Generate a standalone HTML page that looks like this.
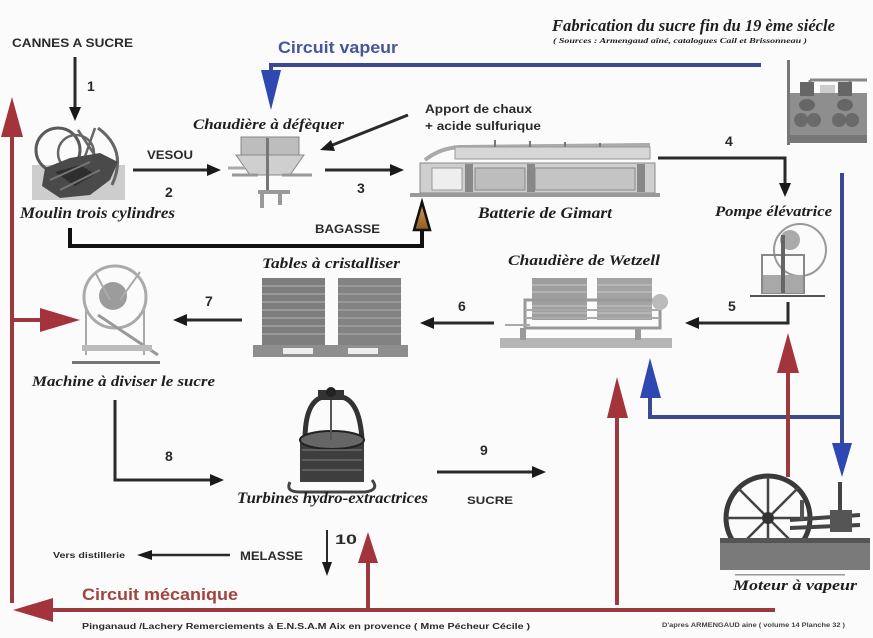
<!DOCTYPE html>
<html><head><meta charset="utf-8"><style>
html,body{margin:0;padding:0;background:#fbfbfb;}
svg{display:block;}
.s{font-family:"Liberation Sans",sans-serif;font-weight:bold;fill:#2a2a2a;}
.sc{font-family:"Liberation Serif","DejaVu Serif",serif;font-weight:bold;font-style:italic;fill:#1e1e1e;}
</style></head><body>
<svg width="873" height="638" viewBox="0 0 873 638" xmlns="http://www.w3.org/2000/svg">
<defs>
<linearGradient id="org" x1="0" y1="0" x2="0" y2="1"><stop offset="0" stop-color="#e0a050"/><stop offset="1" stop-color="#8a5a20"/></linearGradient>
</defs>
<rect width="873" height="638" fill="#fbfbfb"/>

<!-- Moulin trois cylindres -->
<g>
<rect x="32" y="165" width="93" height="35" fill="#cdcdcd"/>
<circle cx="58" cy="150" r="22" fill="none" stroke="#5a5a5a" stroke-width="3"/>
<circle cx="76" cy="153" r="18" fill="none" stroke="#666" stroke-width="2.5"/>
<path d="M98 128 Q128 150 112 185" fill="none" stroke="#666" stroke-width="3"/>
<path d="M78 130 L98 160 M95 128 L82 165" stroke="#666" stroke-width="2.5"/>
<polygon points="45,168 70,158 100,153 118,162 110,180 90,195 60,198 42,186" fill="#4a4a4a"/>
<polygon points="55,172 80,165 95,174 75,186" fill="#2e2e2e"/>
<path d="M60 190 L100 170 M50 180 L90 162" stroke="#777" stroke-width="2"/>
</g>

<!-- Chaudière à défèquer -->
<g>
<rect x="241" y="137" width="58" height="18" fill="#bdbdbd" stroke="#888"/>
<polygon points="236,155 304,155 290,175 250,175" fill="#cfcfcf" stroke="#888"/>
<rect x="266" y="138" width="3" height="55" fill="#777"/>
<path d="M232 175 L258 175 M282 175 L312 175" stroke="#999" stroke-width="3"/>
<path d="M258 192 L290 192 M262 192 L262 208 M280 192 L280 205" stroke="#999" stroke-width="4"/>
<path d="M228 168 L245 168" stroke="#aaa" stroke-width="3"/>
</g>

<!-- Batterie de Gimart -->
<g>
<path d="M425 160 Q440 148 460 147 L650 145" fill="none" stroke="#aaa" stroke-width="4"/>
<rect x="455" y="147" width="195" height="12" fill="#d6d6d6" stroke="#999"/>
<rect x="420" y="163" width="235" height="30" fill="#cfcfcf" stroke="#888"/>
<rect x="432" y="168" width="30" height="22" fill="#eee" stroke="#999"/>
<rect x="475" y="168" width="50" height="22" fill="#bdbdbd" stroke="#888"/>
<rect x="535" y="168" width="100" height="22" fill="#c4c4c4" stroke="#888"/>
<rect x="465" y="164" width="8" height="28" fill="#888"/>
<rect x="527" y="164" width="8" height="28" fill="#888"/>
<rect x="637" y="164" width="8" height="28" fill="#888"/>
<rect x="410" y="193" width="250" height="4" fill="#999"/>
<path d="M495 147 V140 M530 147 V141 M565 147 V142 M600 147 V143" stroke="#777" stroke-width="2"/>
</g>

<!-- Top-right steam machine -->
<g>
<rect x="787" y="60" width="3" height="85" fill="#777"/>
<rect x="790" y="93" width="77" height="50" fill="#8e8e8e"/>
<rect x="790" y="135" width="77" height="8" fill="#777"/>
<path d="M810 80 L867 80 M810 80 V90 M850 80 V90" stroke="#888" stroke-width="3"/>
<rect x="800" y="82" width="14" height="14" fill="#666"/>
<rect x="838" y="82" width="14" height="14" fill="#666"/>
<ellipse cx="807" cy="105" rx="8" ry="6" fill="#666"/>
<ellipse cx="845" cy="105" rx="8" ry="6" fill="#666"/>
<ellipse cx="801" cy="120" rx="7" ry="7" fill="#6a6a6a"/>
<ellipse cx="814" cy="120" rx="7" ry="7" fill="#6a6a6a"/>
<ellipse cx="839" cy="120" rx="7" ry="7" fill="#6a6a6a"/>
<ellipse cx="852" cy="120" rx="7" ry="7" fill="#6a6a6a"/>
<rect x="820" y="85" width="15" height="8" fill="#ccc"/>
</g>

<!-- Pompe élévatrice -->
<g>
<circle cx="800" cy="250" r="26" fill="none" stroke="#999" stroke-width="2"/>
<circle cx="790" cy="240" r="10" fill="#aaa"/>
<rect x="762" y="255" width="42" height="38" fill="none" stroke="#888" stroke-width="2"/>
<rect x="763" y="275" width="40" height="18" fill="#a8a8a8"/>
<rect x="781" y="235" width="4" height="58" fill="#666"/>
<rect x="750" y="295" width="75" height="2" fill="#555"/>
</g>

<!-- Chaudière de Wetzell -->
<g>
<rect x="532" y="278" width="55" height="42" fill="#9e9e9e"/>
<rect x="597" y="278" width="55" height="42" fill="#a4a4a4"/>
<path d="M532 285 H587 M532 292 H587 M532 299 H587 M532 306 H587 M532 313 H587 M597 285 H652 M597 292 H652 M597 299 H652 M597 306 H652 M597 313 H652" stroke="#c8c8c8" stroke-width="1"/>
<rect x="525" y="300" width="135" height="28" fill="none" stroke="#999" stroke-width="3"/>
<path d="M505 325 H530 M525 310 H660 M525 318 H660" stroke="#aaa" stroke-width="2"/>
<circle cx="660" cy="302" r="8" fill="#bbb"/>
<rect x="500" y="338" width="172" height="10" fill="#b5b5b5"/>
<rect x="520" y="328" width="6" height="12" fill="#999"/>
<rect x="635" y="328" width="6" height="12" fill="#999"/>
</g>

<!-- Tables à cristalliser -->
<g>
<rect x="262" y="278" width="63" height="68" fill="#7e7e7e"/>
<rect x="338" y="278" width="63" height="68" fill="#828282"/>
<path d="M262 286 H325 M262 294 H325 M262 302 H325 M262 310 H325 M262 318 H325 M262 326 H325 M262 334 H325 M338 286 H401 M338 294 H401 M338 302 H401 M338 310 H401 M338 318 H401 M338 326 H401 M338 334 H401" stroke="#a0a0a0" stroke-width="1.5"/>
<rect x="253" y="345" width="155" height="12" fill="#8e8e8e"/>
<rect x="283" y="348" width="30" height="6" fill="#eee"/>
<rect x="348" y="348" width="30" height="6" fill="#eee"/>
</g>

<!-- Machine à diviser le sucre -->
<g>
<circle cx="115" cy="297" r="31" fill="none" stroke="#aaa" stroke-width="3"/>
<circle cx="113" cy="296" r="14" fill="#9c9c9c"/>
<path d="M95 272 L110 300 M140 272 L120 300" stroke="#aaa" stroke-width="2"/>
<path d="M98 315 L158 355" stroke="#999" stroke-width="3"/>
<path d="M86 310 L86 355 M144 310 L144 355 M92 350 H150" stroke="#aaa" stroke-width="2"/>
<rect x="82" y="345" width="70" height="6" fill="#bbb"/>
<rect x="72" y="361" width="88" height="3" fill="#777"/>
</g>

<!-- Turbines hydro-extractrices -->
<g>
<path d="M305 440 Q305 405 320 398 Q332 393 345 398 Q360 405 362 440" fill="none" stroke="#333" stroke-width="5"/>
<rect x="318" y="390" width="26" height="10" fill="#333"/>
<circle cx="331" cy="392" r="5" fill="#222"/>
<rect x="300" y="440" width="64" height="42" fill="#3e3e3e"/>
<ellipse cx="332" cy="440" rx="32" ry="9" fill="#666" stroke="#222" stroke-width="2"/>
<path d="M302 450 H362 M302 460 H362 M302 470 H362" stroke="#6a6a6a" stroke-width="1.5"/>
<path d="M290 482 Q285 492 300 492 H365 Q380 490 372 480" fill="none" stroke="#444" stroke-width="3"/>
<rect x="330" y="400" width="2" height="40" fill="#555"/>
</g>

<!-- Moteur à vapeur -->
<g>
<circle cx="768" cy="518" r="42" fill="none" stroke="#3a3a3a" stroke-width="5"/>
<path d="M768 476 V560 M726 518 H810 M738 488 L798 548 M798 488 L738 548" stroke="#444" stroke-width="2.5"/>
<circle cx="768" cy="518" r="6" fill="#333"/>
<rect x="720" y="538" width="150" height="32" fill="#7a7a7a"/>
<rect x="720" y="538" width="150" height="5" fill="#555"/>
<path d="M790 520 L860 515 M790 528 L860 525" stroke="#444" stroke-width="4"/>
<rect x="838" y="482" width="4" height="40" fill="#444"/>
<rect x="830" y="510" width="22" height="22" fill="#555"/>
<rect x="800" y="500" width="4" height="20" fill="#555"/>
<rect x="735" y="574" width="110" height="1.5" fill="#999"/>
</g>

<!-- Blue steam circuit -->
<g stroke="#3b4a8e" stroke-width="4" fill="none">
<path d="M270 65 H761"/>
<path d="M271 63 V75"/>
<path d="M842 173 V445"/>
<path d="M842 417 H650 V395"/>
</g>
<polygon points="261,70 281,70 271,110" fill="#2f47b0"/>
<polygon points="832,443 852,443 842,477" fill="#2f47b0"/>
<polygon points="650,358 640,398 661,398" fill="#2f47b0"/>

<!-- Red mechanical circuit -->
<g stroke="#9a3a3e" stroke-width="4" fill="none">
<path d="M12 603 V130"/>
<path d="M12 320 H45"/>
<path d="M48 610 H775"/>
<path d="M368 610 V560"/>
<path d="M617 605 V415"/>
<path d="M788 477 V370"/>
</g>
<polygon points="12,97 1,137 23,137" fill="#a3343c"/>
<polygon points="80,320 40,308 40,332" fill="#a3343c"/>
<polygon points="13,610 53,598 53,622" fill="#a3343c"/>
<polygon points="368,532 358,563 378,563" fill="#a3343c"/>
<polygon points="617,377 607,418 628,418" fill="#a3343c"/>
<polygon points="788,333 777,373 799,373" fill="#a3343c"/>

<!-- Black process arrows -->
<g stroke="#2a2a2a" stroke-width="3" fill="none">
<path d="M75 57 V110"/>
<path d="M133 170 H208"/>
<path d="M325 170 H391"/>
<path d="M408 115 L330 146"/>
<path d="M70 228 V246 H422 V228" stroke="#111" stroke-width="4"/>
<path d="M658 158 H785 V186"/>
<path d="M242 320 H185"/>
<path d="M494 323 H432"/>
<path d="M788 302 V323 H697"/>
<path d="M115 400 V480 H211"/>
<path d="M437 472 H533"/>
<path d="M327 530 V565" stroke-width="2"/>
<path d="M230 555 H150" stroke-width="2.5"/>
</g>
<g fill="#1a1a1a">
<polygon points="75,121 69,107 81,107"/>
<polygon points="221,170 207,164 207,176"/>
<polygon points="404,170 390,164 390,176"/>
<polygon points="320,150 331,140 335,151"/>
<polygon points="785,197 779,183 791,183"/>
<polygon points="173,320 187,314 187,326"/>
<polygon points="420,323 434,317 434,329"/>
<polygon points="685,323 699,317 699,329"/>
<polygon points="224,480 210,474 210,486"/>
<polygon points="546,472 532,466 532,478"/>
<polygon points="327,576 322,562 332,562"/>
<polygon points="137,555 152,550 152,560"/>
</g>
<polygon points="422,202 414,230 430,230" fill="url(#org)" stroke="#111" stroke-width="2.5"/>

<!-- Text -->
<text class="s" x="12" y="47" font-size="12" textLength="121" lengthAdjust="spacingAndGlyphs">CANNES A SUCRE</text>
<text class="s" x="87" y="91" font-size="14">1</text>
<text class="s" x="278" y="53" font-size="17" style="fill:#45569a" textLength="120" lengthAdjust="spacingAndGlyphs">Circuit vapeur</text>
<text class="sc" x="552" y="31" font-size="17" textLength="283" lengthAdjust="spacingAndGlyphs">Fabrication du sucre fin du 19 ème siécle</text>
<text class="sc" x="553" y="43" font-size="7.5" textLength="254" lengthAdjust="spacingAndGlyphs">( Sources : Armengaud aîné, catalogues Cail et Brissonneau )</text>
<text class="sc" x="193" y="129" font-size="15" textLength="151" lengthAdjust="spacingAndGlyphs">Chaudière à défèquer</text>
<text class="s" x="425" y="113" font-size="12" textLength="107" lengthAdjust="spacingAndGlyphs">Apport de chaux</text>
<text class="s" x="425" y="130" font-size="12" textLength="116" lengthAdjust="spacingAndGlyphs">+ acide sulfurique</text>
<text class="s" x="147" y="159" font-size="12" textLength="46" lengthAdjust="spacingAndGlyphs">VESOU</text>
<text class="s" x="165" y="197" font-size="14">2</text>
<text class="s" x="357" y="193" font-size="14">3</text>
<text class="sc" x="20" y="218" font-size="16" textLength="155" lengthAdjust="spacingAndGlyphs">Moulin trois cylindres</text>
<text class="s" x="315" y="233" font-size="11.5" textLength="65" lengthAdjust="spacingAndGlyphs">BAGASSE</text>
<text class="sc" x="478" y="218" font-size="16" textLength="134" lengthAdjust="spacingAndGlyphs">Batterie de Gimart</text>
<text class="s" x="725" y="146" font-size="14">4</text>
<text class="sc" x="715" y="216" font-size="15" textLength="117" lengthAdjust="spacingAndGlyphs">Pompe élévatrice</text>
<text class="sc" x="262" y="268" font-size="15" textLength="138" lengthAdjust="spacingAndGlyphs">Tables à cristalliser</text>
<text class="s" x="205" y="306" font-size="14">7</text>
<text class="sc" x="508" y="265" font-size="15" textLength="152" lengthAdjust="spacingAndGlyphs">Chaudière de Wetzell</text>
<text class="s" x="458" y="311" font-size="14">6</text>
<text class="s" x="728" y="311" font-size="14">5</text>
<text class="sc" x="32" y="386" font-size="15" textLength="183" lengthAdjust="spacingAndGlyphs">Machine à diviser le sucre</text>
<text class="s" x="165" y="461" font-size="14">8</text>
<text class="sc" x="237" y="503" font-size="16" textLength="191" lengthAdjust="spacingAndGlyphs">Turbines hydro-extractrices</text>
<text class="s" x="480" y="455" font-size="14">9</text>
<text class="s" x="467" y="504" font-size="11" textLength="46" lengthAdjust="spacingAndGlyphs">SUCRE</text>
<text class="s" x="335" y="544" font-size="14" textLength="22" lengthAdjust="spacingAndGlyphs">10</text>
<text class="s" x="240" y="560" font-size="12" textLength="63" lengthAdjust="spacingAndGlyphs">MELASSE</text>
<text class="s" x="53" y="558" font-size="8" textLength="72" lengthAdjust="spacingAndGlyphs">Vers distillerie</text>
<text class="sc" x="733" y="590" font-size="15" textLength="124" lengthAdjust="spacingAndGlyphs">Moteur à vapeur</text>
<text class="s" x="82" y="600" font-size="17" style="fill:#a0443e" textLength="156" lengthAdjust="spacingAndGlyphs">Circuit mécanique</text>
<text class="s" x="82" y="629" font-size="8" textLength="448" lengthAdjust="spacingAndGlyphs">Pinganaud /Lachery  Remerciements à E.N.S.A.M Aix en provence ( Mme Pécheur Cécile )</text>
<text class="s" x="662" y="627" font-size="6" style="fill:#444" textLength="183" lengthAdjust="spacingAndGlyphs">D'apres ARMENGAUD aine  ( volume 14 Planche 32 )</text>
</svg>
</body></html>
